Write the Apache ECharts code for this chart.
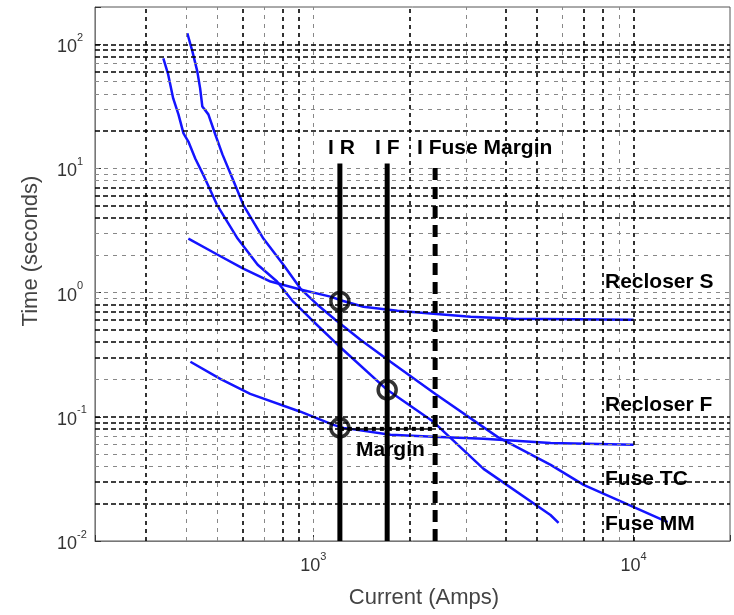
<!DOCTYPE html>
<html>
<head>
<meta charset="utf-8">
<title>Coordination curves</title>
<script src="https://cdn.jsdelivr.net/npm/echarts@6/dist/echarts.min.js"></script>
<style>
  html, body { margin: 0; padding: 0; background: #fff; }
  #main { width: 734px; height: 615px; }
</style>
</head>
<body>
<div id="main"></div>
<script>
// curves (current in amps, time in seconds)
var mmCurrent = [340, 352, 365, 379, 393, 407, 428, 456, 500, 580, 670, 770, 865, 980, 1190, 1700, 2370, 3400, 5500, 5830];
var mmTime    = [77, 57.3, 36.7, 27.3, 19.2, 16.5, 12.0, 8.6, 5.1, 2.73, 1.68, 1.23, 0.846, 0.617, 0.381, 0.165, 0.0912, 0.0381, 0.0162, 0.0140];

var tcCurrent = [404, 419, 434, 443, 450, 470, 494, 520, 559, 604, 698, 806, 911, 1029, 1171, 1403, 1741, 2405, 3758, 5509, 6981, 12770];
var tcTime    = [123, 87.9, 60.6, 44.2, 31.6, 27.3, 18.8, 13.0, 8.3, 5.1, 2.73, 1.68, 1.08, 0.80, 0.606, 0.418, 0.278, 0.153, 0.069, 0.041, 0.0283, 0.0142];

var rsCurrent = [407, 501, 604, 735, 911, 1130, 1232, 1433, 1830, 2371, 3097, 4217, 10000];
var rsTime    = [2.73, 2.03, 1.56, 1.23, 1.06, 0.929, 0.862, 0.771, 0.716, 0.677, 0.640, 0.617, 0.606];

var rfCurrent = [413, 512, 635, 911, 1155, 1241, 1741, 2371, 3399, 5509, 10000];
var rfTime    = [0.278, 0.202, 0.153, 0.110, 0.0861, 0.0815, 0.0716, 0.069, 0.0665, 0.0617, 0.0595];

// vertical markers
var iR = 1210, iF = 1700, iFuseMargin = 2400;
var markerTop = 11, markerBottom = 0.01;

// circles and margin
var circlePts = [[1210, 0.85], [1700, 0.165], [1210, 0.0815]];
var marginLine = [[1210, 0.08], [2400, 0.08]];

// grid lines
var xGridBold  = [300, 600, 800, 900, 2000, 4000, 5000, 7000, 8000, 10000];
var xGridLight = [400, 500, 700, 1000, 3000, 6000, 9000];
var yGridBold  = [0.02, 0.03, 0.08, 0.09, 0.1, 0.3, 0.4, 0.5, 0.6, 0.7, 0.8, 4, 5, 6, 7, 20, 60, 80, 90, 100];
var yGridLight = [0.04, 0.05, 0.06, 0.07, 0.2, 0.9, 1, 2, 3, 8, 9, 10, 30, 40, 50, 70];

function zip(a, b) {
  return a.map(function (v, i) { return [v, b[i]]; });
}

function gridSeries(vals, axis, color, width, dash) {
  return {
    type: 'line',
    data: [],
    silent: true,
    z: 1,
    markLine: {
      silent: true,
      animation: false,
      symbol: ['none', 'none'],
      label: { show: false },
      lineStyle: { color: color, width: width, type: dash },
      data: vals.map(function (v) {
        var o = {};
        o[axis] = v;
        return o;
      })
    }
  };
}

function powLabel(v) {
  var e = Math.round(Math.log10(v));
  if (Math.abs(Math.log10(v) - e) > 1e-6) return '';
  return '{b|10}{s|' + e + '}';
}

var labelRich = {
  b: { fontSize: 18, fontFamily: 'Liberation Sans', color: '#333', lineHeight: 24, verticalAlign: 'bottom' },
  s: { fontSize: 11, fontFamily: 'Liberation Sans', color: '#333', lineHeight: 12, verticalAlign: 'top' }
};

var blue = '#1414ff';
var boldFont = 'bold 21px "Liberation Sans"';

var chart = echarts.init(document.getElementById('main'));

var option = {
  animation: false,
  grid: {
    left: 95, right: 4, top: 7, bottom: 74,
    show: true, borderColor: '#555', borderWidth: 1
  },
  xAxis: {
    type: 'log',
    logBase: 10,
    min: 208,
    max: 20000,
    splitLine: { show: false },
    axisLine: { lineStyle: { color: '#777' } },
    axisTick: { inside: true, length: 6, lineStyle: { color: '#333' } },
    axisLabel: { formatter: powLabel, rich: labelRich, margin: 10 }
  },
  yAxis: {
    type: 'log',
    logBase: 10,
    min: 0.01,
    max: 200,
    splitLine: { show: false },
    axisLine: { show: true, lineStyle: { color: '#777' } },
    axisTick: { show: true, inside: true, length: 6, lineStyle: { color: '#333' } },
    axisLabel: { formatter: powLabel, rich: labelRich, margin: 38, align: 'left' }
  },
  graphic: [
    { type: 'text', x: 31, y: 251, rotation: Math.PI / 2,
      style: { text: 'Time (seconds)', font: '22px "Liberation Sans"', fill: '#444', align: 'center', verticalAlign: 'middle' } },
    { type: 'text', x: 424, y: 598,
      style: { text: 'Current (Amps)', font: '22px "Liberation Sans"', fill: '#444', align: 'center', verticalAlign: 'middle' } },
    { type: 'text', x: 605, y: 282, z: 100, style: { text: 'Recloser S', font: boldFont, fill: '#000', verticalAlign: 'middle' } },
    { type: 'text', x: 605, y: 405, z: 100, style: { text: 'Recloser F', font: boldFont, fill: '#000', verticalAlign: 'middle' } },
    { type: 'text', x: 605, y: 479, z: 100, style: { text: 'Fuse TC', font: boldFont, fill: '#000', verticalAlign: 'middle' } },
    { type: 'text', x: 605, y: 524, z: 100, style: { text: 'Fuse MM', font: boldFont, fill: '#000', verticalAlign: 'middle' } },
    { type: 'text', x: 328, y: 148, z: 100, style: { text: 'I R', font: boldFont, fill: '#000', verticalAlign: 'middle' } },
    { type: 'text', x: 375, y: 148, z: 100, style: { text: 'I F', font: boldFont, fill: '#000', verticalAlign: 'middle' } },
    { type: 'text', x: 417, y: 148, z: 100, style: { text: 'I Fuse Margin', font: boldFont, fill: '#000', verticalAlign: 'middle' } },
    { type: 'text', x: 356, y: 450, z: 100, style: { text: 'Margin', font: boldFont, fill: '#000', verticalAlign: 'middle' } }
  ],
  series: [
    gridSeries(xGridLight, 'xAxis', '#888', 1, [4, 5]),
    gridSeries(yGridLight, 'yAxis', '#888', 1, [4, 5]),
    gridSeries(xGridBold, 'xAxis', '#000', 1.6, [4, 4]),
    gridSeries(yGridBold, 'yAxis', '#000', 1.6, [5, 3]),
    { name: 'Fuse MM', type: 'line', data: zip(mmCurrent, mmTime), showSymbol: false, z: 3,
      lineStyle: { color: blue, width: 2.5 } },
    { name: 'Fuse TC', type: 'line', data: zip(tcCurrent, tcTime), showSymbol: false, z: 3,
      lineStyle: { color: blue, width: 2.5 } },
    { name: 'Recloser S', type: 'line', data: zip(rsCurrent, rsTime), showSymbol: false, z: 3,
      lineStyle: { color: blue, width: 2.5 } },
    { name: 'Recloser F', type: 'line', data: zip(rfCurrent, rfTime), showSymbol: false, z: 3,
      lineStyle: { color: blue, width: 2.5 } },
    { name: 'I R', type: 'line', data: [[iR, markerBottom], [iR, markerTop]], showSymbol: false, z: 5,
      lineStyle: { color: '#000', width: 5 } },
    { name: 'I F', type: 'line', data: [[iF, markerBottom], [iF, markerTop]], showSymbol: false, z: 5,
      lineStyle: { color: '#000', width: 5 } },
    { name: 'I Fuse Margin', type: 'line', data: [[iFuseMargin, markerBottom], [iFuseMargin, markerTop]], showSymbol: false, z: 5,
      lineStyle: { color: '#000', width: 5, type: [12, 7] } },
    { name: 'Margin', type: 'line', data: marginLine, showSymbol: false, z: 5,
      lineStyle: { color: '#000', width: 4, type: [4, 4] } },
    { name: 'points', type: 'scatter', data: circlePts, symbol: 'circle', symbolSize: 18, z: 6,
      itemStyle: { color: 'rgba(0,0,0,0)', borderColor: '#000', borderWidth: 3.5 } }
  ]
};

chart.setOption(option);
</script>
</body>
</html>
